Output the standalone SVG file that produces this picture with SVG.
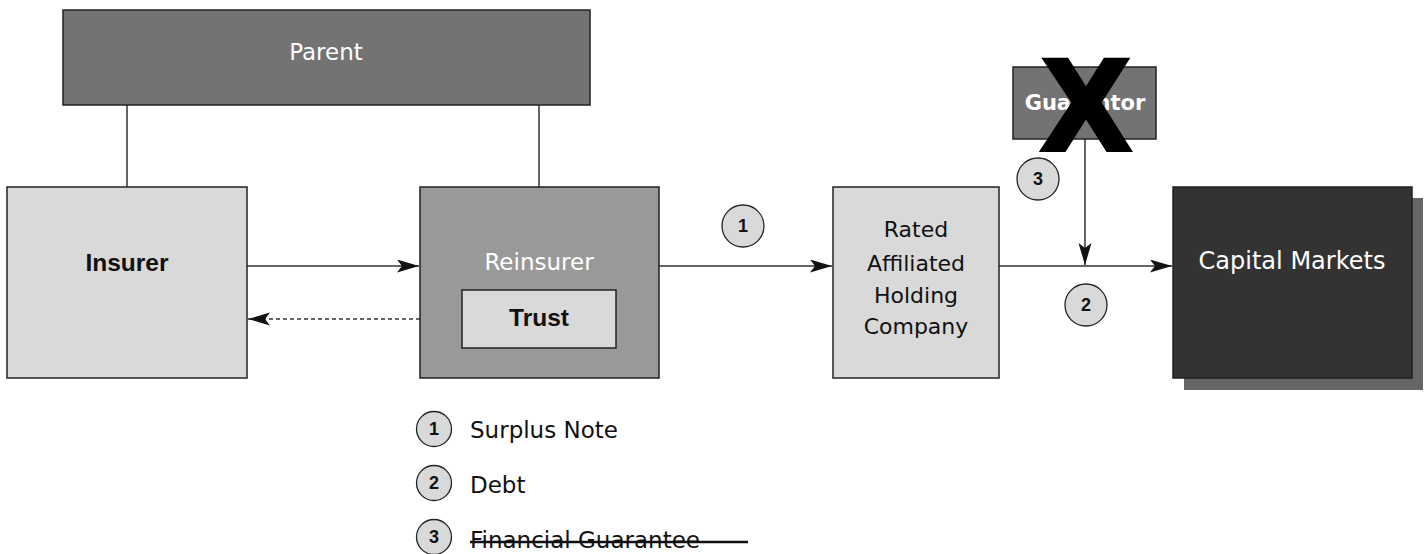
<svg xmlns="http://www.w3.org/2000/svg" width="1426" height="554" viewBox="0 0 1426 554">
<defs>
<style>
.box{stroke:#222;stroke-width:1.5}
.light{fill:#d9d9d9}
.mid{fill:#999999}
.dark{fill:#737373}
.black{fill:#333333}
.lbl{font-family:"DejaVu Sans",sans-serif;font-size:23px;text-anchor:middle}
.blb{font-family:"Liberation Sans",Arial,sans-serif;font-weight:bold;font-size:24.5px;text-anchor:middle}
.wt{fill:#ffffff}
.bk{fill:#111111}
.con{stroke:#333;stroke-width:1.5;fill:none}
.num{fill:#d9d9d9;stroke:#222;stroke-width:1.3}
.numt{font-family:"Liberation Sans",Arial,sans-serif;font-weight:bold;font-size:18px;text-anchor:middle;fill:#111}
.leg{font-family:"DejaVu Sans",sans-serif;font-size:23px;fill:#111}
</style>
<marker id="arr" markerUnits="userSpaceOnUse" markerWidth="24" markerHeight="14" refX="22" refY="6.5" orient="auto">
<path d="M0,0 L22,6.5 L0,13 L5,6.5 Z" fill="#111"/>
</marker>
</defs>

<g id="connectors">
<line class="con" x1="127" y1="105" x2="127" y2="187"/>
<line class="con" x1="539" y1="105" x2="539" y2="187"/>
<line class="con" x1="247" y1="266" x2="419" y2="266" marker-end="url(#arr)"/>
<line class="con" x1="462" y1="319" x2="248" y2="319" stroke-dasharray="4,3" marker-end="url(#arr)"/>
<line class="con" x1="659" y1="266" x2="832" y2="266" marker-end="url(#arr)"/>
<line class="con" x1="999" y1="266" x2="1172" y2="266" marker-end="url(#arr)"/>
<line class="con" x1="1085" y1="139" x2="1085" y2="265" marker-end="url(#arr)"/>
</g>

<g id="parent">
<rect class="box dark" x="63" y="10" width="527" height="95"/>
<text class="lbl wt" x="326" y="60">Parent</text>
</g>

<g id="insurer">
<rect class="box light" x="7" y="187" width="240" height="191"/>
<text class="blb bk" x="127" y="271">Insurer</text>
</g>

<g id="reinsurer">
<rect class="box mid" x="420" y="187" width="239" height="191"/>
<text class="lbl wt" x="539" y="270">Reinsurer</text>
</g>

<g id="trust">
<rect class="box light" x="462" y="290" width="154" height="58"/>
<text class="blb bk" x="539" y="326">Trust</text>
</g>

<g id="rahc">
<rect class="box light" x="833" y="187" width="166" height="191"/>
<text class="lbl bk" style="font-size:22px" x="916" y="237">Rated</text>
<text class="lbl bk" style="font-size:22px" x="916" y="271">Affiliated</text>
<text class="lbl bk" style="font-size:22px" x="916" y="303">Holding</text>
<text class="lbl bk" style="font-size:22px" x="916" y="334">Company</text>
</g>

<g id="capital-markets">
<rect x="1184" y="198" width="239" height="192" fill="#666666"/>
<rect class="box black" x="1173" y="187" width="239" height="191"/>
<text class="lbl wt" style="font-size:24px" x="1292" y="269">Capital Markets</text>
</g>

<g id="guarantor">
<rect class="box dark" x="1013" y="67" width="143" height="72"/>
<text class="lbl wt" style="font-weight:bold;font-size:21px" x="1085" y="110">Guarantor</text>
<text x="1086" y="149" font-family="Liberation Sans, Arial, sans-serif" font-weight="bold" font-size="128" text-anchor="middle" fill="#000" stroke="#000" stroke-width="6" stroke-linejoin="miter">X</text>
</g>

<g id="markers">
<circle class="num" cx="743" cy="226" r="21"/>
<text class="numt" x="743" y="232">1</text>
<circle class="num" cx="1038" cy="179" r="21"/>
<text class="numt" x="1038" y="185">3</text>
<circle class="num" cx="1086" cy="305" r="21"/>
<text class="numt" x="1086" y="311">2</text>
</g>

<g id="legend">
<circle class="num" cx="434" cy="429" r="17.5"/>
<text class="numt" x="434" y="435">1</text>
<text class="leg" x="470" y="438">Surplus Note</text>
<circle class="num" cx="434" cy="483" r="17.5"/>
<text class="numt" x="434" y="489">2</text>
<text class="leg" x="470" y="493">Debt</text>
<circle class="num" cx="434" cy="537" r="17.5"/>
<text class="numt" x="434" y="543">3</text>
<text class="leg" x="470" y="548">Financial Guarantee</text>
<line x1="470" y1="542" x2="748" y2="542" stroke="#111" stroke-width="2.5"/>
</g>
</svg>
